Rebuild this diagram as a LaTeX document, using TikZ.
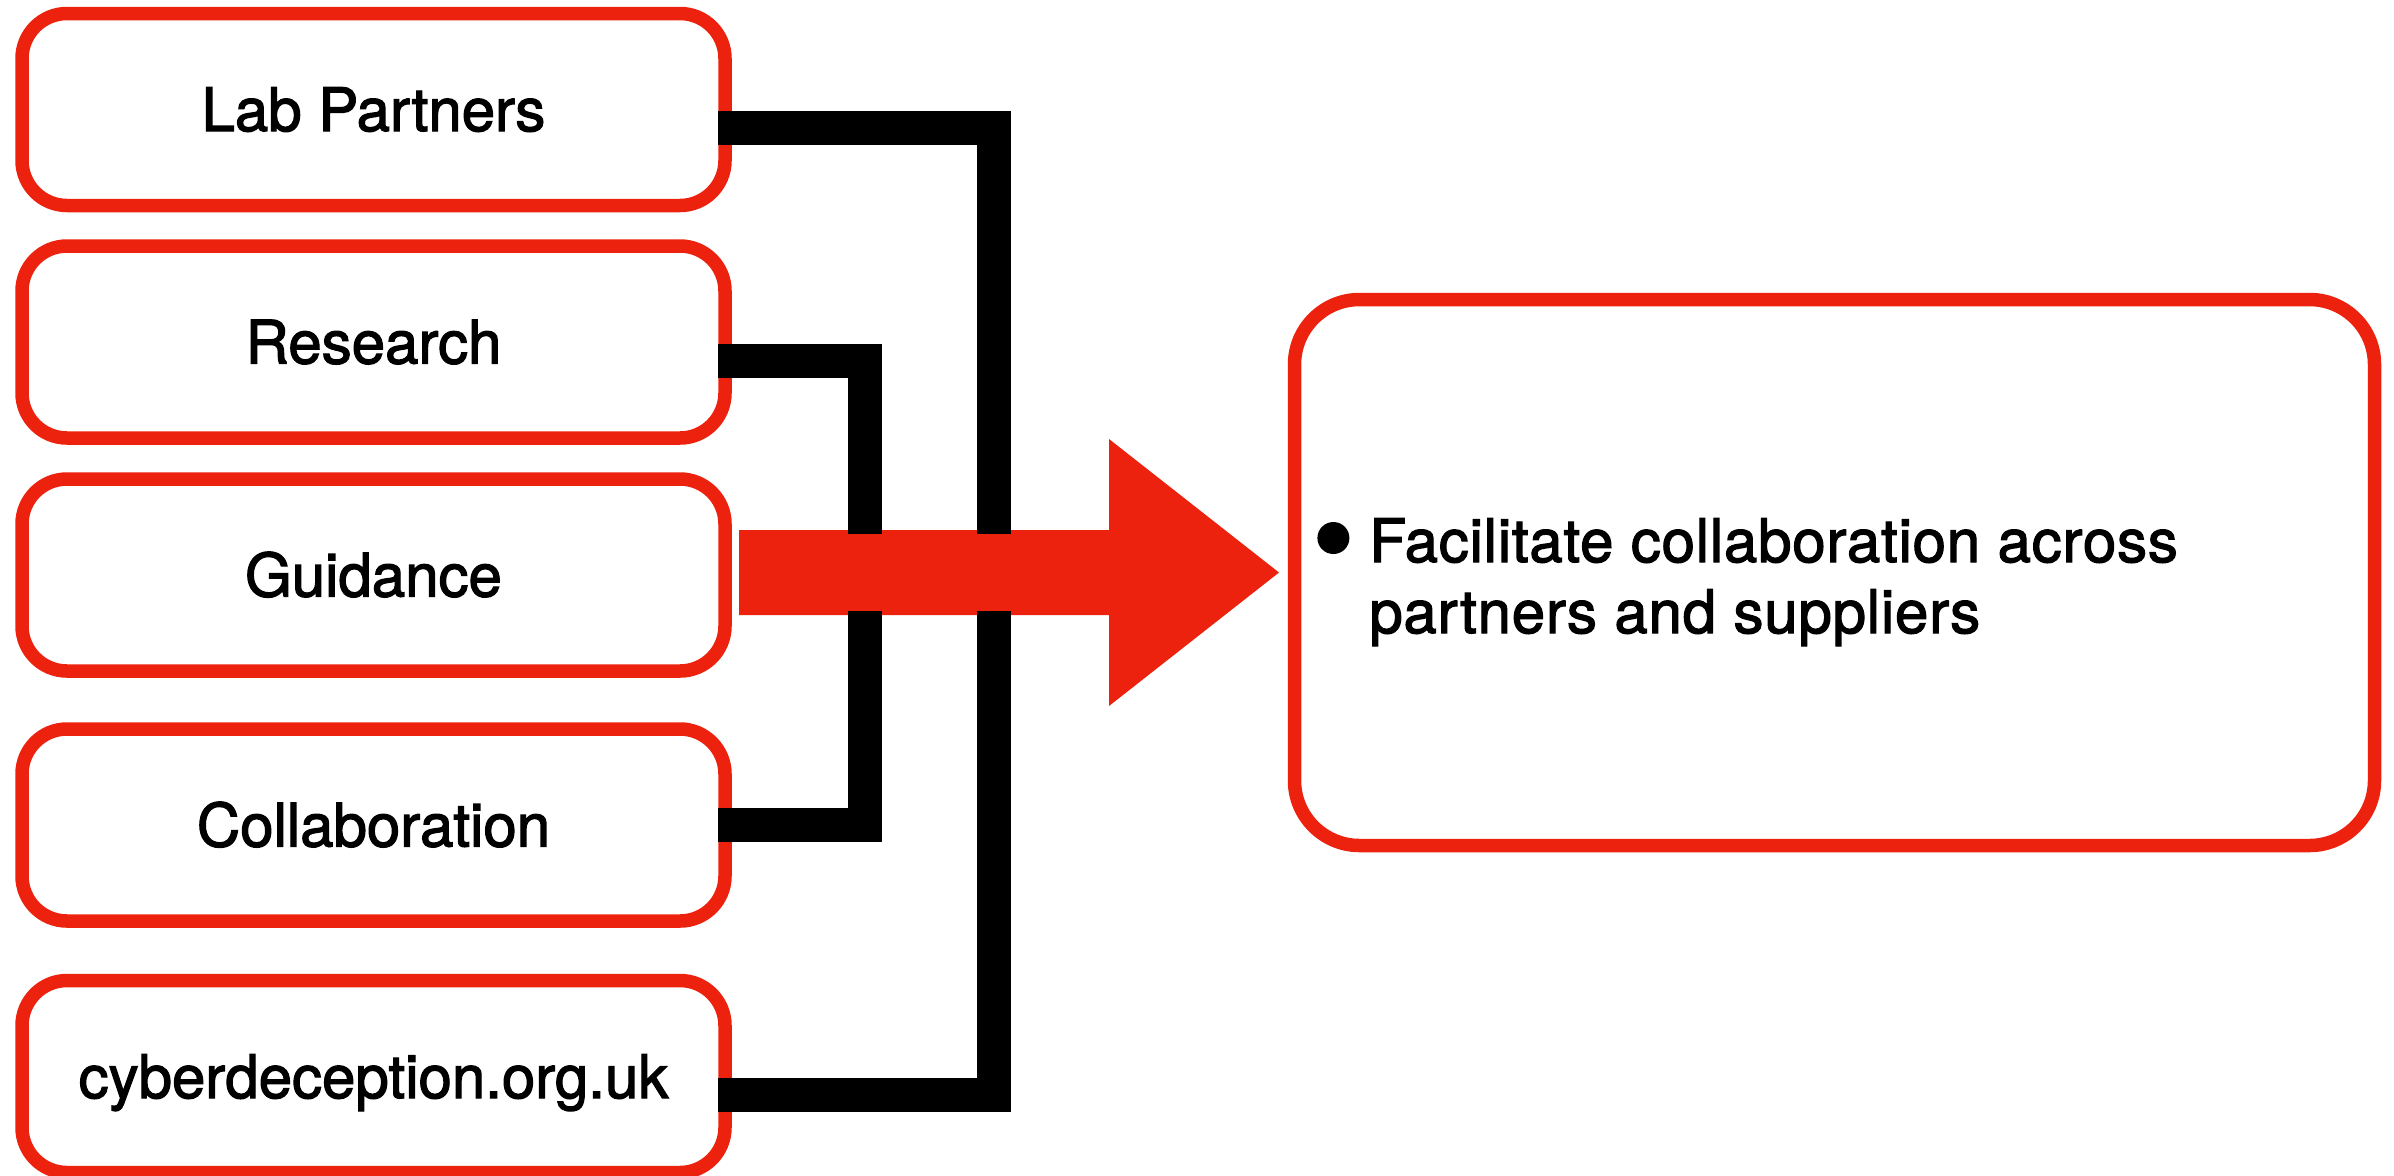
\documentclass[tikz,border=0pt]{standalone}
\usepackage{fontspec}
\setmainfont[FakeBold=2]{TeX Gyre Heros}
\definecolor{boxred}{RGB}{237,34,14}

\begin{document}
\begin{tikzpicture}[x=0.5pt,y=-0.5pt,
  item/.style={draw=boxred, line width=6.75pt, rounded corners=22.5pt,
    minimum width=351.5pt, minimum height=96pt, inner sep=0pt, outer sep=0pt,
    fill=white, font=\fontsize{30pt}{35.5pt}\selectfont,
    text height=21.5pt, text depth=0pt},
  goalbox/.style={draw=boxred, line width=6.75pt, rounded corners=32.5pt,
    minimum width=540pt, minimum height=273pt, inner sep=0pt, outer sep=0pt,
    fill=white},
  bus/.style={draw=black, line width=17pt, line join=miter, line cap=butt},
]
\useasboundingbox (0,0) rectangle (2394,1175);
\fill[white] (0,0) rectangle (2394,1175);

% source boxes
\node[item] (lab) at (373.5,109.5) {Lab Partners};
\node[item] (res) at (373.5,342)   {Research};
\node[item] (gui) at (373.5,575)   {Guidance};
\node[item] (col) at (373.5,825)   {Collaboration};
\node[item] (web) at (373.5,1076.5) {cyberdeception.org.uk};

% outcome box
\node[goalbox] (goal) at (1834.5,572.5) {};
\node[anchor=base west, inner sep=0pt,
      font=\fontsize{30pt}{35.5pt}\selectfont\addfontfeatures{LetterSpace=1.3}]
  (goaltext) at (1317,562)
  {\begin{tabular}[t]{@{}c@{\hspace{10pt}}l@{}}
     \tikz[baseline={(0pt,-12pt)}]\fill (0pt,0pt) circle (8pt); &
     Facilitate collaboration across\\
     & partners and suppliers
   \end{tabular}};

% big red arrow
\node[inner sep=0pt, outer sep=0pt, minimum width=185pt, minimum height=42.5pt]
  (shaft) at (924,572.5) {};
\fill[boxred] (shaft.north west) -- (shaft.north east)
  -- ([yshift=45.5pt]shaft.north east) -- ([xshift=85pt]shaft.east)
  -- ([yshift=-45.5pt]shaft.south east) -- (shaft.south east)
  -- (shaft.south west) -- cycle;

% bus lines feeding the arrow, ending just inside the shaft edges
\coordinate (inLtop) at (864.5,534);
\coordinate (inRtop) at (993.5,534);
\coordinate (inLbot) at (864.5,611);
\coordinate (inRbot) at (993.5,611);
\draw[bus] ([shift={(-3.5pt,-9.25pt)}]lab.east) -| (inRtop);
\draw[bus] ([shift={(-3.5pt,-9.25pt)}]res.east) -| (inLtop);
\draw[bus] ([xshift=-3.5pt]col.east) -| (inLbot);
\draw[bus] ([shift={(-3.5pt,-9.25pt)}]web.east) -| (inRbot);
\end{tikzpicture}
\end{document}
